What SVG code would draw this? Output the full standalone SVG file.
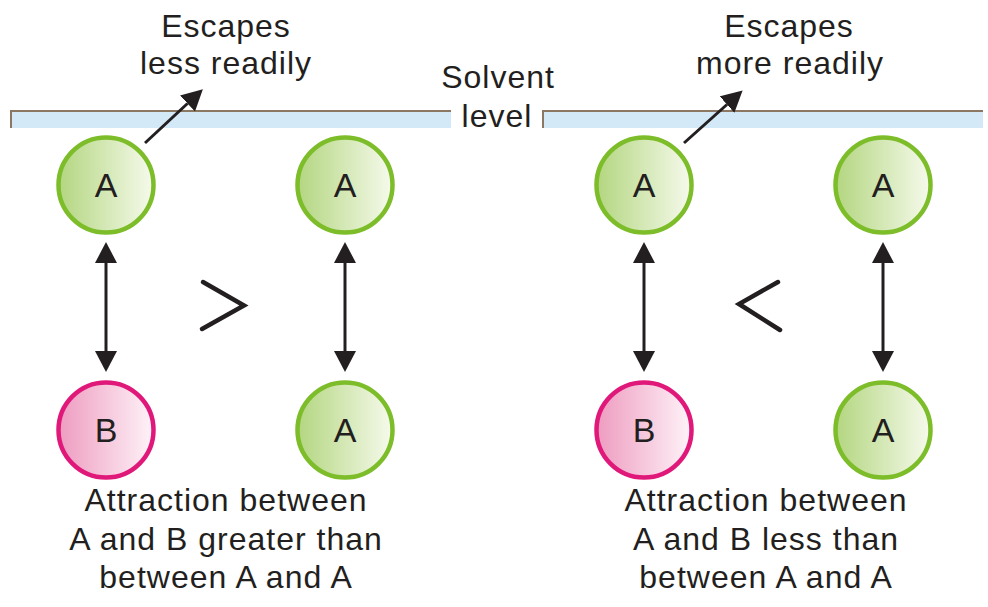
<svg xmlns="http://www.w3.org/2000/svg" width="988" height="607" viewBox="0 0 988 607">
<style>
text{font-family:"Liberation Sans",Arial,sans-serif;fill:#231f20;font-size:32px;letter-spacing:1px;text-anchor:middle}
.lbl{letter-spacing:0;font-size:34px}
.band{fill:#d4e9f7}
.edge{fill:none;stroke:#8c7862;stroke-width:2}
.ga{fill:url(#gGreen);stroke:#7cbd29;stroke-width:4.5}
.gb{fill:url(#gPink);stroke:#e0187a;stroke-width:4.5}
.arr{stroke:#231f20;stroke-width:3;fill:none;marker-end:url(#ah)}
.dbl{marker-start:url(#ah)}
.cmp{fill:none;stroke:#231f20;stroke-width:4.5;stroke-linecap:round;stroke-linejoin:miter}
</style>
<defs>
<linearGradient id="gGreen" x1="0" y1="0" x2="1" y2="0">
<stop offset="0" stop-color="#b3d680"/>
<stop offset="1" stop-color="#f6faec"/>
</linearGradient>
<linearGradient id="gPink" x1="0" y1="0" x2="1" y2="0">
<stop offset="0" stop-color="#ee9cc0"/>
<stop offset="1" stop-color="#fef3f8"/>
</linearGradient>
<marker id="ah" viewBox="0 0 21 22" refX="0" refY="11" markerWidth="21" markerHeight="22" markerUnits="userSpaceOnUse" orient="auto-start-reverse">
<path d="M0,0 L21,11 L0,22 Z" fill="#231f20"/>
</marker>
</defs>

<g id="solvent">
<rect class="band" x="11" y="111" width="440" height="17"/>
<path class="edge" d="M11,128 V111 H451"/>
<rect class="band" x="543" y="111" width="440" height="17"/>
<path class="edge" d="M543,128 V111 H983"/>
<text x="498" y="88">Solvent</text>
<text x="497" y="127">level</text>
</g>

<g id="left-labels">
<text x="226" y="37">Escapes</text>
<text x="226" y="74">less readily</text>
<text x="226" y="511">Attraction between</text>
<text x="226" y="550">A and B greater than</text>
<text x="226" y="588">between A and A</text>
</g>
<g id="right-labels">
<text x="789" y="37">Escapes</text>
<text x="790" y="74">more readily</text>
<text x="766" y="511">Attraction between</text>
<text x="766" y="550">A and B less than</text>
<text x="766" y="588">between A and A</text>
</g>

<g id="nodeL1"><circle class="ga" cx="106" cy="185" r="47.5"/><text class="lbl" x="106" y="197">A</text></g>
<g id="nodeL2"><circle class="ga" cx="345" cy="185" r="47.5"/><text class="lbl" x="345" y="197">A</text></g>
<g id="nodeL3"><circle class="gb" cx="106" cy="430" r="47.5"/><text class="lbl" x="106" y="442">B</text></g>
<g id="nodeL4"><circle class="ga" cx="345" cy="430" r="47.5"/><text class="lbl" x="345" y="442">A</text></g>
<g id="nodeR1"><circle class="ga" cx="644" cy="185" r="47.5"/><text class="lbl" x="644" y="197">A</text></g>
<g id="nodeR2"><circle class="ga" cx="883" cy="185" r="47.5"/><text class="lbl" x="883" y="197">A</text></g>
<g id="nodeR3"><circle class="gb" cx="644" cy="430" r="47.5"/><text class="lbl" x="644" y="442">B</text></g>
<g id="nodeR4"><circle class="ga" cx="883" cy="430" r="47.5"/><text class="lbl" x="883" y="442">A</text></g>

<g id="connectors">
<line class="arr dbl" x1="106" y1="263" x2="106" y2="351"/>
<line class="arr dbl" x1="345" y1="263" x2="345" y2="351"/>
<line class="arr dbl" x1="644" y1="263" x2="644" y2="351"/>
<line class="arr dbl" x1="883" y1="263" x2="883" y2="351"/>
<line class="arr" x1="145" y1="143" x2="187.5" y2="103.5"/>
<line class="arr" x1="684" y1="143" x2="727" y2="104.5"/>
</g>

<g id="comparators">
<path class="cmp" d="M203,282 L244,305.5 L202,329"/>
<path class="cmp" d="M778,282 L739,304 L780,330"/>
</g>
</svg>
